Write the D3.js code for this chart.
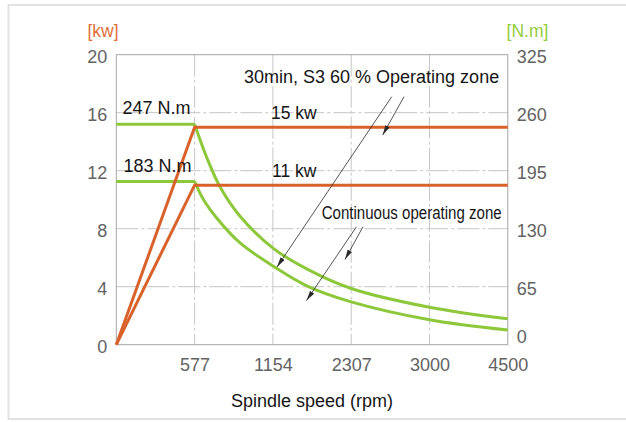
<!DOCTYPE html>
<html>
<head>
<meta charset="utf-8">
<script src="https://cdn.jsdelivr.net/npm/d3@7"></script>
<style>
  html, body { margin: 0; padding: 0; background: #fff; }
  svg { display: block; }
  text { font-family: "Liberation Sans", Arial, Helvetica, sans-serif; }
</style>
</head>
<body>
<svg id="chart" width="626" height="422"></svg>
<script>
// Spindle speed ticks (rpm) – drawn evenly spaced along the axis
const speedTicks = [0, 577, 1154, 2307, 3000, 4500];
const speedLabels = ["", "577", "1154", "2307", "3000", "4500"];
// Power axis (kW) and torque axis (N.m)
const powerTicks = [0, 4, 8, 12, 16, 20];
const torqueTicks = [0, 65, 130, 195, 260, 325];

// Power curves: [rpm, kW]
const powerS3 = [[0, 0], [577, 15], [4500, 15]];
const powerS1 = [[0, 0], [577, 11], [4500, 11]];

// Torque: constant region then falling curve, [rpm, N.m]
const torqueS3Flat = [[0, 247], [577, 247]];
const torqueS3Fall = [[577, 247], [666, 210], [764, 177], [912, 144], [1160, 108],
                      [1652, 85], [2307, 63], [3000, 42], [4500, 29]];
const torqueS1Flat = [[0, 183], [577, 183]];
const torqueS1Fall = [[577, 183], [641, 163], [740, 142], [912, 114], [1160, 88],
                      [1652, 66], [2307, 48], [3000, 28], [4500, 16.5]];

const ORANGE = "#d9622b";
const GREEN = "#8cc83a";
const GRID = "#c6c6c6";
const FRAME = "#a6a6a6";
const TICK = "#636363";
const INK = "#151515";

const svg = d3.select("#chart");

const L = 116.3, R = 507.8, T = 54.7, B = 344.7;

const x = d3.scaleLinear()
  .domain(speedTicks)
  .range(speedTicks.map((d, i) => L + i * (R - L) / (speedTicks.length - 1)));
const yP = d3.scaleLinear().domain([0, 20]).range([B, T]);
const yT = d3.scaleLinear().domain([0, 325]).range([B, T]);

// outer panel border
svg.append("rect")
  .attr("x", 8.5).attr("y", 5).attr("width", 700).attr("height", 414)
  .attr("fill", "none").attr("stroke", "#e2e2e2").attr("stroke-width", 2);

// grid
const grid = svg.append("g").attr("stroke", GRID).attr("stroke-width", 1)
  .attr("stroke-dasharray", "22,3,3,3");
grid.selectAll("line.v").data(speedTicks.slice(1, -1)).join("line")
  .attr("x1", d => x(d)).attr("x2", d => x(d))
  .attr("y1", T).attr("y2", B);
grid.selectAll("line.h").data(powerTicks.slice(1, -1)).join("line")
  .attr("x1", L).attr("x2", R)
  .attr("y1", d => yP(d)).attr("y2", d => yP(d));

// plot frame
svg.append("rect")
  .attr("x", L).attr("y", T).attr("width", R - L).attr("height", B - T)
  .attr("fill", "none").attr("stroke", FRAME).attr("stroke-width", 1);

// axes (labels only)
const fontSize = 18;
const gL = svg.append("g").attr("transform", `translate(${L},0)`)
  .call(d3.axisLeft(yP).tickValues(powerTicks).tickSize(0).tickPadding(9));
const gR = svg.append("g").attr("transform", `translate(${R},0)`)
  .call(d3.axisRight(yT).tickValues(torqueTicks).tickSize(0).tickPadding(9));
const gB = svg.append("g").attr("transform", `translate(0,${B})`)
  .call(d3.axisBottom(x).tickValues(speedTicks.slice(1))
    .tickFormat((d) => speedLabels[speedTicks.indexOf(d)]).tickSize(0).tickPadding(14));
[gL, gR, gB].forEach(g => {
  g.select(".domain").remove();
  g.selectAll("text").attr("fill", TICK).attr("font-size", fontSize)
    .attr("font-family", '"Liberation Sans", Arial, sans-serif');
});
gL.selectAll("text").attr("dy", "0.45em");
gR.selectAll("text").attr("dy", d => d === 0 ? "-0.12em" : "0.45em");
gB.selectAll("text").attr("dy", "0.71em");

// axis titles
svg.append("text").attr("x", 103).attr("y", 36.5).attr("text-anchor", "middle")
  .attr("font-size", 17.5).attr("fill", "#e0703a").text("[kw]");
svg.append("text").attr("x", 527.5).attr("y", 36.5).attr("text-anchor", "middle")
  .attr("font-size", 17.5).attr("fill", "#93cc3c").text("[N.m]");
svg.append("text").attr("x", (L + R) / 2).attr("y", 406.5).attr("text-anchor", "middle")
  .attr("font-size", 18).attr("fill", INK).text("Spindle speed (rpm)");

// curves
const straight = d3.line().x(d => x(d[0])).y(d => yP(d[1]));
const tFlat = d3.line().x(d => x(d[0])).y(d => yT(d[1]));
const tCurve = d3.line().x(d => x(d[0])).y(d => yT(d[1])).curve(d3.curveCatmullRom.alpha(0.5));

const curves = svg.append("g").attr("fill", "none").attr("stroke-width", 3)
  .attr("stroke-linejoin", "miter");
[torqueS3Flat, torqueS1Flat].forEach(s =>
  curves.append("path").attr("d", tFlat(s)).attr("stroke", GREEN));
[torqueS3Fall, torqueS1Fall].forEach(s =>
  curves.append("path").attr("d", tCurve(s)).attr("stroke", GREEN));
[powerS3, powerS1].forEach(s =>
  curves.append("path").attr("d", straight(s)).attr("stroke", ORANGE));

// annotations
const ann = svg.append("g").attr("fill", INK).attr("font-size", 18);
ann.append("text").attr("x", 122.5).attr("y", yT(247) - 10).text("247 N.m");
ann.append("text").attr("x", 123.5).attr("y", yT(183) - 9.5).text("183 N.m");
ann.append("text").attr("x", 271).attr("y", yP(15) - 8).attr("font-size", 17.5).text("15 kw");
ann.append("text").attr("x", 272).attr("y", yP(11) - 8.5).attr("font-size", 17.5).text("11 kw");
ann.append("text").attr("x", 244).attr("y", 83.3).text("30min, S3 60 % Operating zone");
ann.append("text").attr("x", 321.7).attr("y", 219.3).attr("font-size", 17.5)
  .attr("textLength", 180).attr("lengthAdjust", "spacingAndGlyphs")
  .text("Continuous operating zone");

// leader arrows
svg.append("defs").append("marker")
  .attr("id", "arrow").attr("viewBox", "0 0 10 6").attr("refX", 10).attr("refY", 3)
  .attr("markerWidth", 10).attr("markerHeight", 6).attr("markerUnits", "userSpaceOnUse")
  .attr("orient", "auto")
  .append("path").attr("d", "M0,0.6 L10,3 L0,5.4 Z").attr("fill", "#2a2a2a");

const leaders = [
  [[391.7, 96.7], [277, 267]],
  [[404, 96.7], [382.7, 135]],
  [[356.5, 226.7], [306.5, 300.5]],
  [[363, 226.7], [345, 259.5]]
];
svg.append("g").selectAll("line").data(leaders).join("line")
  .attr("x1", d => d[0][0]).attr("y1", d => d[0][1])
  .attr("x2", d => d[1][0]).attr("y2", d => d[1][1])
  .attr("stroke", "#2a2a2a").attr("stroke-width", 0.8)
  .attr("marker-end", "url(#arrow)");
</script>
</body>
</html>
